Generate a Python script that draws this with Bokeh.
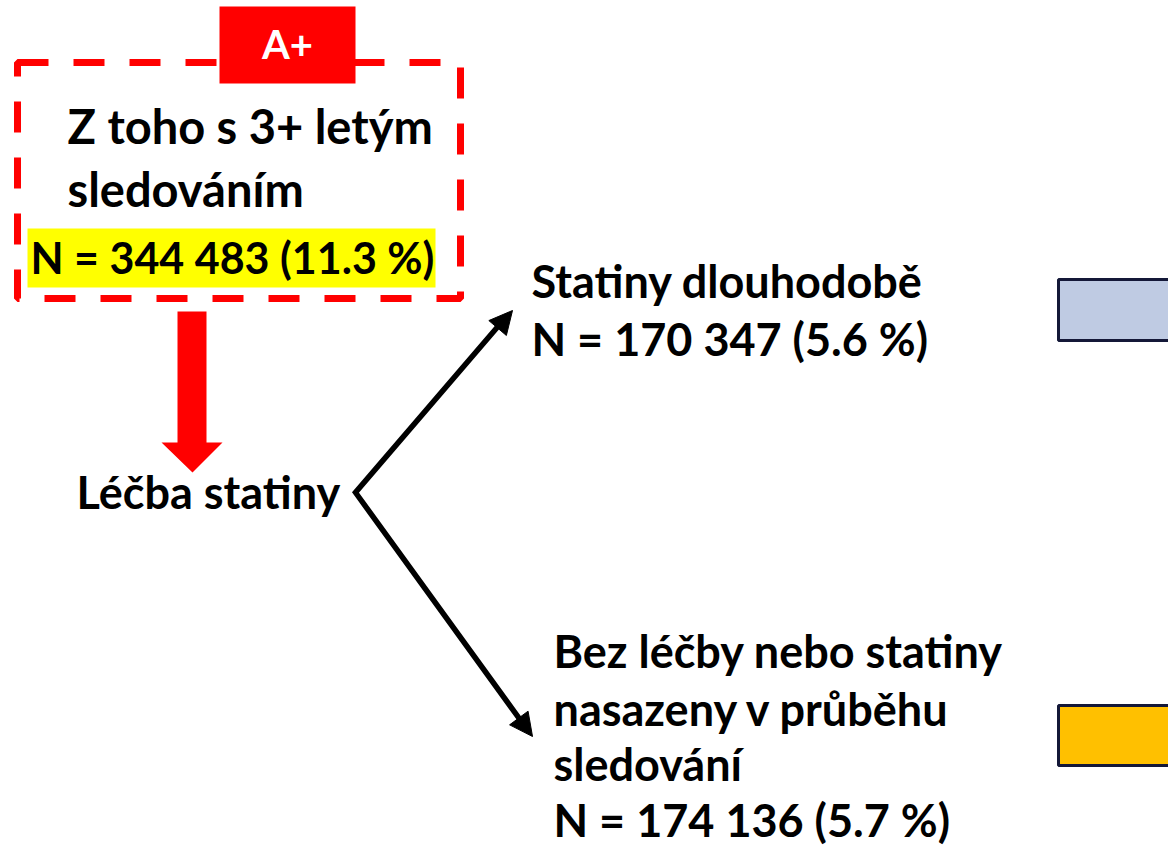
from bokeh.plotting import figure
from bokeh.models import Range1d, Arrow, NormalHead
from bokeh.core.properties import value
from bokeh.embed import file_html
from bokeh.resources import INLINE

# ---- data ----
total_label = ["Z toho s 3+ letým", "sledováním"]
total_n = [344483]
total_pct = [11.3]
badge = ["A+"]
root_label = ["Léčba statiny"]
branch_labels = [["Statiny dlouhodobě"],
                 ["Bez léčby nebo statiny", "nasazeny v průběhu", "sledování"]]
branch_n = [170347, 174136]
branch_pct = [5.6, 5.7]
branch_colors = ["#BFCBE3", "#FFC000"]


def ntext(n, pct):
    return "N = " + format(n, ",").replace(",", " ") + " (" + str(pct) + " %)"


FONT = value("Lato")
BASE_SHIFT = 0.42  # renderer places the alphabetic baseline lower by ~0.42em


def add_text(xs, ys, texts, size, color="black", align="left"):
    ys = [y - BASE_SHIFT * size for y in ys]
    p.text(x=xs, y=ys, text=texts, text_align=align, text_baseline="alphabetic",
           text_font=FONT, text_font_style="bold", text_font_size=value(f"{size}px"),
           text_color=color)


W, H = 1168, 846
p = figure(width=W, height=H, output_backend="svg", toolbar_location=None,
           x_range=Range1d(0, W), y_range=Range1d(H, 0), min_border=0)
p.axis.visible = False
p.grid.visible = False
p.outline_line_color = None
p.background_fill_color = "white"

# dashed frame
p.quad(left=[17], right=[460], top=[62], bottom=[298], fill_color=None,
       line_color="#FF0000", line_width=7, line_dash="31 25")
# A+ badge
p.quad(left=[219], right=[355], top=[6], bottom=[83], fill_color="#FF0000", line_color=None)
add_text([287], [60], badge, 40, color="white", align="center")
# yellow highlight
p.quad(left=[27], right=[435], top=[228], bottom=[287], fill_color="#FFFF00", line_color=None)

# texts
add_text([67, 67], [145, 208], total_label, 47)
add_text([30], [275], [ntext(total_n[0], total_pct[0])], 43)
add_text([76], [510], root_label, 45)

top_lines = branch_labels[0] + [ntext(branch_n[0], branch_pct[0])]
add_text([531] * len(top_lines), [299, 357][:len(top_lines)], top_lines, 45)
bot_lines = branch_labels[1] + [ntext(branch_n[1], branch_pct[1])]
add_text([553] * len(bot_lines), [669, 727, 782, 838][:len(bot_lines)], bot_lines, 45)

# red block arrow
p.patch(x=[177, 206, 206, 222, 192, 161, 177], y=[311, 311, 442, 442, 472, 442, 442],
        fill_color="#FF0000", line_color=None)

# black branch lines
p.line(x=[506, 355, 526], y=[316, 492, 728], line_color="black", line_width=5.5,
       line_join="miter")
for (xs, ys, xe, ye) in [(495, 330, 512, 310), (515, 713, 532, 736)]:
    p.add_layout(Arrow(x_start=xs, y_start=ys, x_end=xe, y_end=ye, line_alpha=0,
                       end=NormalHead(size=23, fill_color="black", line_color="black",
                                      line_width=1)))

# colored boxes
p.quad(left=[1058, 1058], right=[1190, 1190], top=[279, 705], bottom=[340, 765],
       fill_color=branch_colors, line_color="#141838", line_width=3)

open("out.html", "w").write(file_html(p, INLINE))
